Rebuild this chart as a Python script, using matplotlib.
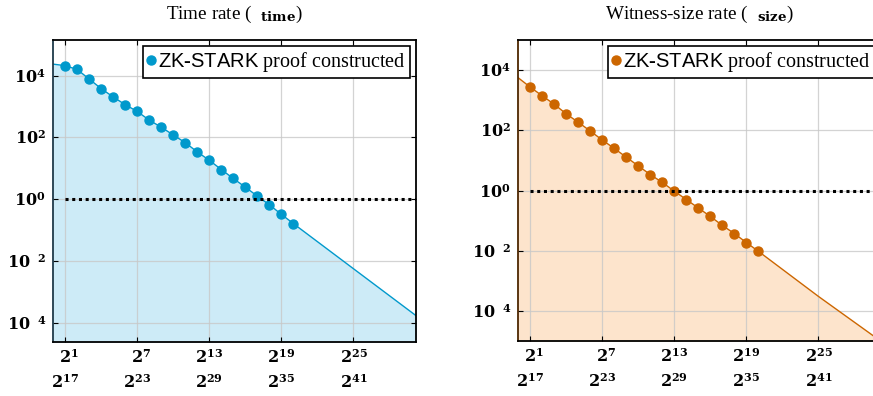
import numpy as np
import matplotlib
matplotlib.use("Agg")
import matplotlib.pyplot as plt

plt.rcParams['font.family'] = ['Liberation Serif', 'DejaVu Serif']
plt.rcParams['mathtext.fontset'] = 'custom'
plt.rcParams['mathtext.rm'] = 'Liberation Serif'
plt.rcParams['mathtext.bf'] = 'DejaVu Serif:bold'
plt.rcParams['mathtext.sf'] = 'Liberation Sans'
plt.rcParams['mathtext.it'] = 'Liberation Serif:italic'

# data (log10 of the rate)
steps = list(range(1, 21))
time_log = [4.32, 4.20, 3.89, 3.58, 3.31, 3.06, 2.84, 2.56, 2.33, 2.08,
            1.83, 1.53, 1.26, 0.96, 0.67, 0.39, 0.10, -0.18, -0.49, -0.79]
size_log = [3.44, 3.15, 2.87, 2.55, 2.27, 1.98, 1.68, 1.40, 1.11, 0.82,
            0.53, 0.27, -0.02, -0.30, -0.58, -0.86, -1.16, -1.43, -1.73, -2.02]
# line start (x=0) and tail without markers
time_head, size_head = 4.37, 3.75
tail_x = [25, 31]
time_tail = [-2.25, -4.0]
size_tail = [-3.52, -5.24]

xtick_pos = [1, 7, 13, 19, 25]
xtick_top = ['1', '7', '13', '19', '25']
xtick_bot = ['17', '23', '29', '35', '41']
ytick_pos = [1e4, 1e2, 1e0, 1e-2, 1e-4]
ytick_lab = [r'$\mathbf{10}^{\mathbf{4}}$', r'$\mathbf{10}^{\mathbf{2}}$', r'$\mathbf{10}^{\mathbf{0}}$',
             r'$\mathbf{10}\ \ ^{\mathbf{2}}$', r'$\mathbf{10}\ \ ^{\mathbf{4}}$']

panels = [
    dict(title=r'Time rate (  $_{\mathbf{time}}$)', head=time_head, vals=time_log, tail=time_tail,
         color='#0099cc', fill='#cdebf7', edge='#1f3a4a', ylim=(10**-4.62, 10**5.15),
         rect=[53/873, 54/396, 363/873, 302/396]),
    dict(title=r'Witness-size rate (  $_{\mathbf{size}}$)', head=size_head, vals=size_log, tail=size_tail,
         color='#cc6600', fill='#fde4cc', edge='#4d2600', ylim=(1e-5, 1e5),
         rect=[518/873, 55/396, 363/873, 301/396]),
]

fig = plt.figure(figsize=(8.73, 3.96), dpi=100)

for p in panels:
    ax = fig.add_axes(p['rect'])
    xs = [0] + steps + tail_x
    ys = 10 ** np.array([p['head']] + p['vals'] + p['tail'])
    ax.fill_between(xs, ys, 1e-8, color=p['fill'], lw=0, zorder=1)
    ax.plot(xs, ys, color=p['color'], lw=1.0, zorder=3)
    ax.plot(steps, 10 ** np.array(p['vals']), 'o', color=p['color'], ms=6.5, zorder=4,
            label=r'$\mathsf{ZK}$-$\mathsf{STARK}$ proof constructed')
    ax.plot([1, 40], [1, 1], color='black', lw=2.2, ls=(0, (1, 1.2)), zorder=5)

    ax.set_yscale('log')
    ax.set_xlim(0, 30.2)
    ax.set_ylim(*p['ylim'])
    ax.set_xticks(xtick_pos)
    ax.set_xticklabels([r'$\mathbf{2}^{\mathbf{%s}}$' % a + '\n' + r'$\mathbf{2}^{\mathbf{%s}}$' % b
                        for a, b in zip(xtick_top, xtick_bot)], multialignment='right',
                       fontsize=11.5, linespacing=1.5)
    ax.set_yticks(ytick_pos)
    ax.set_yticklabels(ytick_lab, fontsize=11.5)
    ax.yaxis.set_minor_locator(matplotlib.ticker.NullLocator())
    ax.tick_params(direction='in', length=3.5, width=0.8, top=True, right=True, pad=5)
    ax.grid(True, color='#c8c8c8', lw=0.9, zorder=0)
    ax.set_axisbelow(False)
    for g in ax.get_xgridlines() + ax.get_ygridlines():
        g.set_alpha(0.8)
    for s in ax.spines.values():
        s.set_linewidth(1.3)
        s.set_zorder(6)
    ax.spines['left'].set_color(p['edge'])
    ax.set_title(p['title'], fontsize=13.8, pad=15)
    leg = ax.legend(loc='upper right', fontsize=14.5, handlelength=0.4, handletextpad=0.15,
                    borderpad=0.2, borderaxespad=0.3, fancybox=False, framealpha=1,
                    edgecolor='black', markerscale=1.0)
    leg.get_frame().set_linewidth(1.2)
    leg.set_zorder(10)

fig.savefig('out.png', dpi=100)
